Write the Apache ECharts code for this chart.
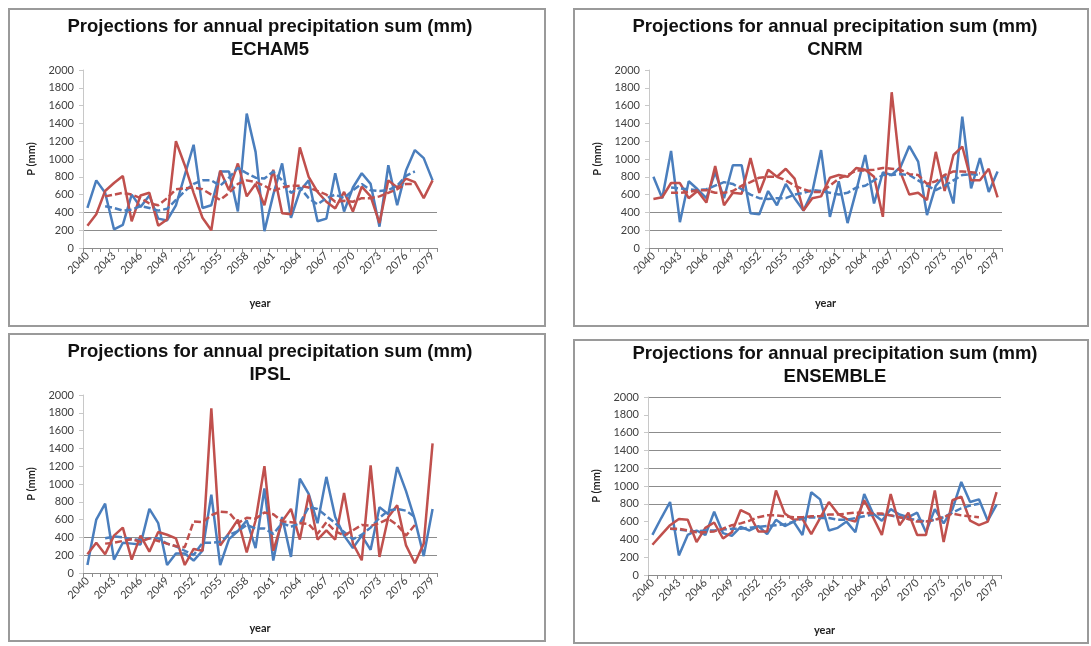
<!DOCTYPE html>
<html>
<head>
<meta charset="utf-8">
<script src="https://cdn.jsdelivr.net/npm/echarts@6/dist/echarts.min.js"></script>
<style>
html,body{margin:0;padding:0;background:#fff;}
#main{width:1091px;height:646px;}
</style>
</head>
<body>
<div id="main"></div>
<script>
var years = ['2040','2041','2042','2043','2044','2045','2046','2047','2048','2049',
             '2050','2051','2052','2053','2054','2055','2056','2057','2058','2059',
             '2060','2061','2062','2063','2064','2065','2066','2067','2068','2069',
             '2070','2071','2072','2073','2074','2075','2076','2077','2078','2079'];
var yTicks = [0, 2000, 200];

// ECHAM5
var echamBlue = [450,760,620,210,260,600,460,590,330,310,480,820,1160,450,480,860,860,410,1510,1080,190,600,950,340,640,760,300,330,840,410,680,840,720,240,930,480,870,1100,1010,760];
var echamRed  = [250,380,640,730,810,300,590,620,250,320,1200,930,620,340,200,870,650,950,580,720,480,880,390,380,1130,800,630,520,445,630,410,690,580,280,760,680,780,740,560,760];
var echamBlueAvg = [null,null,470,450,420,430,470,450,420,440,540,640,720,760,760,700,790,900,840,790,780,860,760,620,680,560,490,560,600,560,650,720,650,640,650,700,810,860,null,null];
var echamRedAvg  = [null,null,580,600,620,600,560,500,480,560,660,670,680,660,600,540,620,720,760,740,700,640,680,700,700,680,640,600,520,530,520,560,560,580,620,660,720,720,null,null];

// CNRM
var cnrmBlue = [800,560,1090,290,750,660,560,850,560,930,930,390,380,640,480,720,560,420,630,1100,350,750,280,650,1045,500,850,820,910,1145,970,370,700,820,500,1475,670,1010,630,860];
var cnrmRed  = [550,570,730,730,560,640,510,920,480,620,610,1010,620,880,800,890,780,420,560,580,790,820,800,900,880,800,350,1750,850,600,620,540,1080,640,1045,1140,760,760,890,570];
var cnrmBlueAvg = [null,null,680,670,660,650,660,700,740,720,660,600,560,550,560,560,600,620,650,640,620,600,620,680,700,760,820,820,830,820,760,700,650,700,760,820,830,820,null,null];
var cnrmRedAvg  = [null,null,620,620,630,650,650,620,620,640,700,740,790,800,800,760,700,660,630,630,700,780,820,870,870,880,900,890,880,830,820,720,750,820,860,860,850,840,null,null];

// IPSL
var ipslBlue = [90,600,780,150,340,330,320,720,560,90,220,220,140,250,880,90,380,470,590,280,950,140,630,180,1060,890,560,1080,630,420,280,420,260,740,660,1190,920,600,190,720];
var ipslRed  = [210,340,210,420,510,150,420,240,460,430,390,90,270,250,1850,310,450,600,230,590,1200,250,580,720,375,880,375,480,375,900,330,143,1210,180,630,760,310,110,330,1456];
var ipslBlueAvg = [null,null,390,410,400,380,370,390,390,330,300,250,200,340,340,350,430,470,540,500,500,440,560,520,560,740,720,640,560,460,380,430,510,620,700,720,700,630,null,null];
var ipslRedAvg  = [null,null,330,340,360,380,350,390,360,330,300,290,580,570,650,690,680,560,620,610,680,660,580,570,560,550,440,570,470,420,480,540,530,560,610,540,420,540,null,null];

// ENSEMBLE
var ensBlue = [450,640,820,220,450,500,450,710,470,440,540,500,550,460,620,550,600,450,930,850,500,530,600,480,910,690,610,740,680,650,700,480,740,580,740,1045,820,850,610,790];
var ensRed  = [340,450,560,630,620,370,530,590,410,480,730,680,490,490,950,690,620,630,460,640,820,690,630,600,840,650,450,910,560,700,450,450,950,370,840,880,610,560,600,930];
var ensBlueAvg = [null,null,520,510,500,490,500,500,510,520,520,530,540,550,560,570,600,640,650,640,640,620,620,640,660,680,680,670,650,630,620,600,620,650,700,750,780,800,null,null];
var ensRedAvg  = [null,null,520,520,500,480,480,490,520,560,580,610,650,670,670,660,650,650,660,660,680,680,690,700,700,690,690,670,650,630,600,600,620,650,690,670,660,650,null,null];

var models = ['ECHAM5', 'CNRM', 'IPSL', 'ENSEMBLE'];
var titleText = 'Projections for annual precipitation sum (mm)';

var blue = '#4a7ebd', red = '#c0504d';
var gridOn = '#8c8c8c', off = 'rgba(0,0,0,0)';
// only some grid lines survive in the scanned picture
var lowLines = [off, gridOn, gridOn, off, off, off, off, off, off, off, off];
var highLines = [off, off, off, off, gridOn, gridOn, gridOn, gridOn, gridOn, off, gridOn];

var panels = [
  {grid: {left: 83, top: 70, width: 354, height: 178}, tx: 270, ty: 27, box: [9, 9, 536, 317], lines: lowLines,
   data: [echamBlue, echamRed, echamBlueAvg, echamRedAvg]},
  {grid: {left: 649, top: 70, width: 353, height: 178}, tx: 835, ty: 27, box: [574, 9, 514, 317], lines: lowLines,
   data: [cnrmBlue, cnrmRed, cnrmBlueAvg, cnrmRedAvg]},
  {grid: {left: 83, top: 395, width: 354, height: 178}, tx: 270, ty: 352, box: [9, 334, 536, 307], lines: lowLines,
   data: [ipslBlue, ipslRed, ipslBlueAvg, ipslRedAvg]},
  {grid: {left: 648, top: 397, width: 353, height: 178}, tx: 835, ty: 354, box: [574, 340, 514, 303], lines: highLines,
   data: [ensBlue, ensRed, ensBlueAvg, ensRedAvg]}
];

var font = 'Lato, "Liberation Sans", sans-serif';
var titleFont = 'bold 18.5px "Liberation Sans", Arial, sans-serif';
var grids = [], xAxes = [], yAxes = [], series = [], graphics = [];

panels.forEach(function (p, k) {
  grids.push(p.grid);
  xAxes.push({
    type: 'category', gridIndex: k, data: years, boundaryGap: true,
    name: 'year', nameLocation: 'middle', nameGap: 50,
    nameTextStyle: {fontFamily: font, fontWeight: 'bold', fontSize: 11, color: '#222'},
    axisLine: {lineStyle: {color: '#8c8c8c', width: 1}},
    axisTick: {show: true, interval: 0, length: 4, lineStyle: {color: '#8c8c8c'}},
    axisLabel: {interval: 2, rotate: 45, margin: 6, fontFamily: font, fontSize: 11, color: '#404040'},
    splitLine: {show: false}
  });
  yAxes.push({
    type: 'value', gridIndex: k, min: yTicks[0], max: yTicks[1], interval: yTicks[2],
    name: 'P (mm)', nameLocation: 'middle', nameGap: 46, nameRotate: 90,
    nameTextStyle: {fontFamily: font, fontWeight: 'bold', fontSize: 11, color: '#222'},
    axisLine: {show: true, lineStyle: {color: '#c8c8c8', width: 1}},
    axisTick: {show: true, length: 4, lineStyle: {color: '#c8c8c8'}},
    axisLabel: {margin: 9, fontFamily: font, fontSize: 11, color: '#404040',
      formatter: function (v) { return String(v); }},
    splitLine: {show: true, lineStyle: {color: p.lines, width: 1}}
  });
  var styles = [
    {color: blue, type: 'solid'}, {color: red, type: 'solid'},
    {color: blue, type: [7, 3]}, {color: red, type: [7, 3]}
  ];
  p.data.forEach(function (arr, j) {
    series.push({
      type: 'line', xAxisIndex: k, yAxisIndex: k, data: arr,
      symbol: 'none', silent: true, connectNulls: false,
      lineStyle: {color: styles[j].color, width: 2.5, type: styles[j].type},
      itemStyle: {color: styles[j].color}
    });
  });
  graphics.push({
    type: 'rect', shape: {x: p.box[0], y: p.box[1], width: p.box[2], height: p.box[3]},
    style: {fill: null, stroke: '#9a9a9a', lineWidth: 2}
  });
  graphics.push({
    type: 'text', x: p.tx, y: p.ty,
    style: {text: titleText, font: titleFont, fill: '#111', align: 'center', verticalAlign: 'middle'}
  });
  graphics.push({
    type: 'text', x: p.tx, y: p.ty + 23,
    style: {text: models[k], font: titleFont, fill: '#111', align: 'center', verticalAlign: 'middle'}
  });
});

var myChart = echarts.init(document.getElementById('main'));
myChart.setOption({
  animation: false,
  backgroundColor: '#fff',
  grid: grids,
  xAxis: xAxes,
  yAxis: yAxes,
  series: series,
  graphic: graphics
});
</script>
</body>
</html>
